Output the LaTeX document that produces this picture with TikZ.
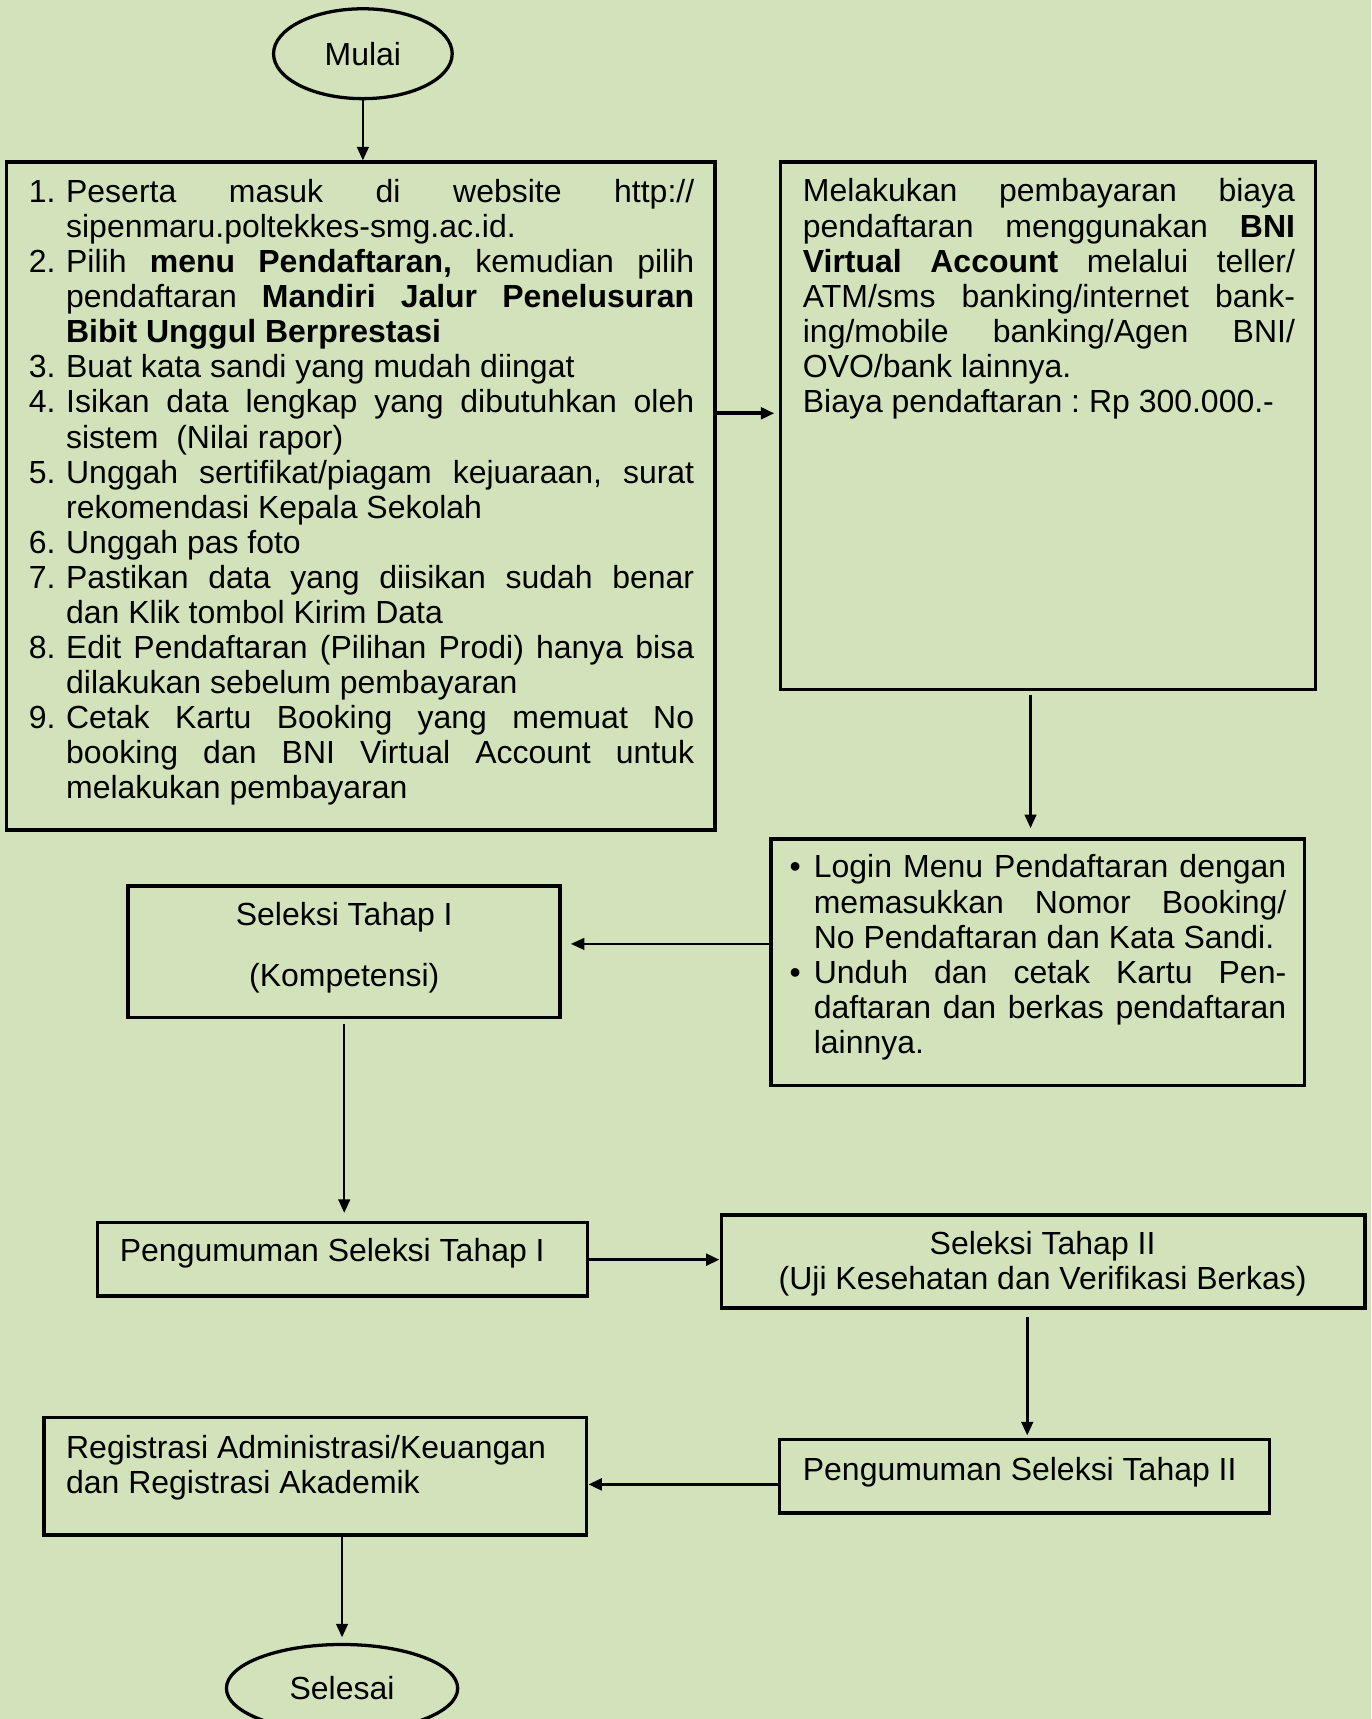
\documentclass[tikz,border=0pt]{standalone}
\usepackage{fontspec}
\setmainfont{Liberation Sans}
\usetikzlibrary{shapes,arrows.meta,positioning,fit}

\definecolor{latar}{RGB}{210,227,188}

\tolerance=10000
\hbadness=10000
\hyphenpenalty=10000
\frenchspacing

\newcommand{\nomor}[2]{\par\hangindent=0.68cm\hangafter=1\noindent\makebox[0.68cm][l]{\strut#1}#2\par}
\newcommand{\butir}[1]{\par\hangindent=0.44cm\hangafter=1\noindent\makebox[0.44cm][l]{\strut\textbullet}#1\par}

\tikzset{
    kotak/.style={draw, line width=1.9pt, inner sep=0pt},
    ujung/.style={draw, ellipse, line width=1.7pt, inner sep=0pt},
    teks/.style={inner sep=0pt, align=justify},
    panah/.style={-{Triangle[length=7pt,width=6pt]}, line width=1.3pt},
    panahtebal/.style={-{Triangle[length=7pt,width=6pt]}, line width=1.9pt},
}

\begin{document}
\begin{tikzpicture}[x=0.02cm, y=-0.02cm, every node/.style={font=\fontsize{16.6}{18.2}\selectfont\frenchspacing}]
    \useasboundingbox[fill=latar] (0,0) rectangle (1251,1568);

    % mulai dan selesai
    \node[ujung, minimum width=3.26cm, minimum height=1.64cm] (mulai) at (331,49) {Mulai};
    \node[ujung, minimum width=4.22cm, minimum height=1.6cm] (selesai) at (312,1540) {Selesai};

    % kotak-kotak
    \node[kotak, fit={(6,148) (652,757)}] (daftar) {};
    \node[kotak, fit={(712,148) (1200,629)}] (bayar) {};
    \node[kotak, fit={(703,765) (1190,990)}] (login) {};
    \node[kotak, fit={(117,808) (511,928)}] (seleksi1) {};
    \node[kotak, fit={(89,1115) (536,1182)}] (umum1) {};
    \node[kotak, fit={(658,1108) (1245,1193)}] (seleksi2) {};
    \node[kotak, fit={(711,1313) (1158,1380)}] (umum2) {};
    \node[kotak, fit={(40,1293) (535,1400)}] (registrasi) {};

    % isi kotak
    \node[teks, anchor=north west, text width=12.14cm] (daftartxt) at (26,152.5) {%
        \nomor{1.}{Peserta masuk di website http://\linebreak sipenmaru.poltekkes-smg.ac.id.}
        \nomor{2.}{Pilih \textbf{menu Pendaftaran,} kemudian pilih\linebreak pendaftaran \textbf{Mandiri Jalur Penelusuran}\linebreak \textbf{Bibit Unggul Berprestasi}}
        \nomor{3.}{Buat kata sandi yang mudah diingat}
        \nomor{4.}{Isikan data lengkap yang dibutuhkan oleh\linebreak sistem\ \ (Nilai rapor)}
        \nomor{5.}{Unggah sertifikat/piagam kejuaraan, surat\linebreak rekomendasi Kepala Sekolah}
        \nomor{6.}{Unggah pas foto}
        \nomor{7.}{Pastikan data yang diisikan sudah benar\linebreak dan Klik tombol Kirim Data}
        \nomor{8.}{Edit Pendaftaran (Pilihan Prodi) hanya bisa\linebreak dilakukan sebelum pembayaran}
        \nomor{9.}{Cetak Kartu Booking yang memuat No\linebreak booking dan BNI Virtual Account untuk\linebreak melakukan pembayaran}};
    \node[teks, anchor=north west, text width=8.98cm] (bayartxt) at (732,161.5) {\strut
        Melakukan pembayaran biaya\linebreak pendaftaran menggunakan \textbf{BNI}\linebreak \textbf{Virtual Account} melalui teller/\linebreak ATM/sms banking/internet bank-\linebreak ing/mobile banking/Agen BNI/\linebreak OVO/bank lainnya.\par
        Biaya pendaftaran : Rp 300.000.-};
    \node[teks, anchor=north west, text width=9.06cm] (logintxt) at (720,768.5) {%
        \butir{Login Menu Pendaftaran dengan\linebreak memasukkan Nomor Booking/\linebreak No Pendaftaran dan Kata Sandi.}
        \butir{Unduh dan cetak Kartu Pen-\linebreak daftaran dan berkas pendaftaran\linebreak lainnya.}};
    \node[anchor=north, align=center, inner sep=0pt] (seleksi1txt) at (314,821.5) {\strut Seleksi Tahap I\\[0.48cm] (Kompetensi)};
    \node[anchor=base west, inner sep=0pt] (umum1txt) at (109,1151) {Pengumuman Seleksi Tahap I};
    \node[anchor=north, align=center, inner sep=0pt] (seleksi2txt) at (951,1121.5) {\strut Seleksi Tahap II\\(Uji Kesehatan dan Verifikasi Berkas)};
    \node[anchor=base west, inner sep=0pt] (umum2txt) at (732,1350) {Pengumuman Seleksi Tahap II};
    \node[anchor=north west, align=left, inner sep=0pt] (registrasitxt) at (60,1307.5) {\strut Registrasi Administrasi/Keuangan\\dan Registrasi Akademik};

    % panah
    \draw[panah] (mulai) -- (mulai |- daftar.north);
    \draw[panahtebal, shorten >=0.08cm] (daftar.east |- 0,377) -- (bayar.west |- 0,377);
    \draw[panah, shorten <=0.06cm, shorten >=0.16cm] (bayar.south -| 940,0) -- (login.north -| 940,0);
    \draw[panah, shorten >=0.16cm] (login.west |- 0,861) -- (seleksi1.east |- 0,861);
    \draw[panah, shorten <=0.08cm, shorten >=0.14cm] (seleksi1.south) -- (umum1.north -| seleksi1.south);
    \draw[panahtebal] (umum1.east |- 0,1149) -- (seleksi2.west |- 0,1149);
    \draw[panah, shorten <=0.14cm, shorten >=0.04cm] (seleksi2.south -| 937,0) -- (umum2.north -| 937,0);
    \draw[panahtebal] (umum2.west |- 0,1354) -- (registrasi.east |- 0,1354);
    \draw[panah, shorten >=0.1cm] (registrasi.south -| selesai) -- (selesai);
\end{tikzpicture}
\end{document}
